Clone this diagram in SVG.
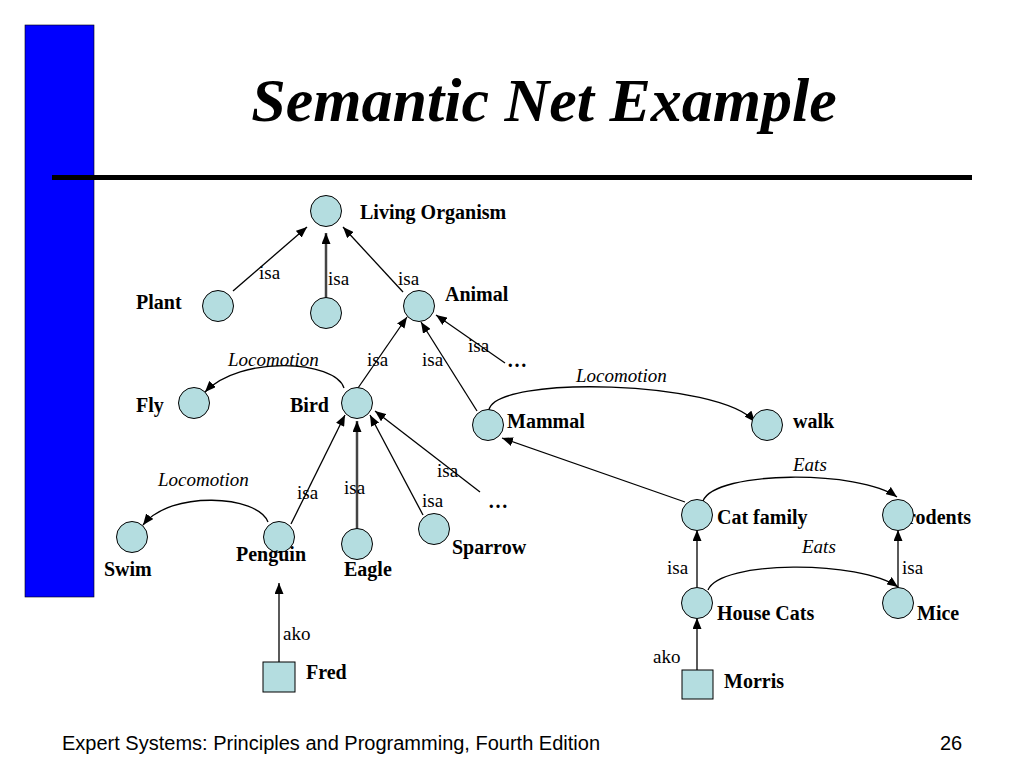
<svg xmlns="http://www.w3.org/2000/svg" width="1024" height="768" viewBox="0 0 1024 768">
<style>
.nd{fill:#b4dde0;stroke:#000;stroke-width:1}
.lbl{font-family:"Liberation Serif","Times New Roman",serif;font-weight:bold;font-size:20px;fill:#000}
.rel{font-family:"Liberation Serif","Times New Roman",serif;font-size:19px;fill:#000}
.rit{font-family:"Liberation Serif","Times New Roman",serif;font-style:italic;font-size:19px;fill:#000}
.ln{stroke:#000;stroke-width:1.3;fill:none;marker-end:url(#ah)}
.gl{stroke:#444;stroke-width:2.5;fill:none;marker-end:url(#ah)}
.ft{font-family:"Liberation Sans",Arial,sans-serif;font-size:20px;fill:#000}
</style>
<defs>
<marker id="ah" markerUnits="userSpaceOnUse" markerWidth="11" markerHeight="9" refX="11" refY="4.5" orient="auto">
<path d="M0,0 L11,4.5 L0,9 z" fill="#000"/>
</marker>
</defs>
<rect width="1024" height="768" fill="#fff"/>
<g id="frame">
<rect x="25" y="25" width="69" height="572" fill="#0000ff" stroke="#000" stroke-width="0.6"/>
<rect x="52" y="175" width="920" height="5" fill="#000"/>
<text x="544" y="121" text-anchor="middle" font-family="Liberation Serif,'Times New Roman',serif" font-weight="bold" font-style="italic" font-size="62">Semantic Net Example</text>
<text x="62" y="750" class="ft">Expert Systems: Principles and Programming, Fourth Edition</text>
<text x="940" y="750" class="ft">26</text>
</g>
<g id="connectors">
<line class="ln" x1="233" y1="291" x2="307" y2="227"/>
<line class="gl" x1="326" y1="298" x2="326" y2="233"/>
<line class="ln" x1="403" y1="292" x2="343" y2="227"/>
<line class="ln" x1="358" y1="388" x2="407" y2="317"/>
<line class="ln" x1="477" y1="411" x2="421" y2="322"/>
<line class="ln" x1="505" y1="363" x2="436" y2="315"/>
<path class="ln" d="M344,388 C335,360 240,355 205,392"/>
<path class="ln" d="M489,410 C495,375 720,380 755,422"/>
<line class="ln" x1="291" y1="524" x2="345" y2="415"/>
<line class="gl" x1="357" y1="529" x2="357" y2="421"/>
<line class="ln" x1="423" y1="515" x2="370" y2="415"/>
<line class="ln" x1="480" y1="492" x2="375" y2="411"/>
<path class="ln" d="M268,522 C258,495 170,490 143,525"/>
<line class="ln" x1="279" y1="662" x2="279" y2="583"/>
<line class="ln" x1="685" y1="502" x2="502" y2="438"/>
<path class="ln" d="M703,501 C715,470 860,470 897,497"/>
<path class="ln" d="M708,590 C720,560 860,560 898,587"/>
<line class="ln" x1="697" y1="587" x2="697" y2="530"/>
<line class="ln" x1="898" y1="588" x2="898" y2="530"/>
<line class="ln" x1="697" y1="670" x2="697" y2="618"/>
<text class="rel" x="259" y="279">isa</text>
<text class="rel" x="328" y="285">isa</text>
<text class="rel" x="398" y="285">isa</text>
<text class="rel" x="367" y="366">isa</text>
<text class="rel" x="422" y="366">isa</text>
<text class="rel" x="468" y="352">isa</text>
<text class="rel" x="437" y="477">isa</text>
<text class="rel" x="297" y="499">isa</text>
<text class="rel" x="344" y="494">isa</text>
<text class="rel" x="422" y="507">isa</text>
<text class="rel" x="283" y="640">ako</text>
<text class="rel" x="667" y="574">isa</text>
<text class="rel" x="902" y="574">isa</text>
<text class="rel" x="653" y="663">ako</text>
<text class="rit" x="228" y="366" font-size="20">Locomotion</text>
<text class="rit" x="158" y="486" font-size="20">Locomotion</text>
<text class="rit" x="576" y="382" font-size="20">Locomotion</text>
<text class="rit" x="793" y="471">Eats</text>
<text class="rit" x="802" y="553">Eats</text>
<text class="lbl" x="507" y="367">…</text>
<text class="lbl" x="488" y="508">…</text>
</g>
<g id="living-organism"><circle class="nd" cx="326" cy="211" r="15.5"/><text class="lbl" x="360" y="219">Living Organism</text></g>
<g id="plant"><circle class="nd" cx="218" cy="306" r="15.5"/><text class="lbl" x="136" y="309">Plant</text></g>
<g id="unnamed"><circle class="nd" cx="326" cy="313" r="15.5"/></g>
<g id="animal"><circle class="nd" cx="419" cy="306" r="15.5"/><text class="lbl" x="445" y="301">Animal</text></g>
<g id="fly"><circle class="nd" cx="194" cy="403" r="15.5"/><text class="lbl" x="136" y="412">Fly</text></g>
<g id="bird"><circle class="nd" cx="357" cy="403" r="15.5"/><text class="lbl" x="290" y="412">Bird</text></g>
<g id="mammal"><circle class="nd" cx="488" cy="425" r="15.5"/><text class="lbl" x="507" y="428">Mammal</text></g>
<g id="walk"><circle class="nd" cx="767" cy="425" r="15.5"/><text class="lbl" x="793" y="428">walk</text></g>
<g id="swim"><circle class="nd" cx="132" cy="537" r="15.5"/><text class="lbl" x="104" y="576">Swim</text></g>
<g id="penguin"><circle class="nd" cx="279" cy="537" r="15.5"/><text class="lbl" x="236" y="561">Penguin</text></g>
<g id="eagle"><circle class="nd" cx="357" cy="544" r="15.5"/><text class="lbl" x="344" y="576">Eagle</text></g>
<g id="sparrow"><circle class="nd" cx="434" cy="529" r="15.5"/><text class="lbl" x="452" y="554">Sparrow</text></g>
<g id="fred"><rect class="nd" x="263" y="662" width="32" height="30"/><text class="lbl" x="306" y="679">Fred</text></g>
<g id="cat-family"><circle class="nd" cx="697" cy="515" r="15.5"/><text class="lbl" x="717" y="524">Cat family</text></g>
<g id="rodents"><text class="lbl" x="907" y="524">rodents</text><circle class="nd" cx="898" cy="515" r="15.5"/></g>
<g id="house-cats"><circle class="nd" cx="697" cy="603" r="15.5"/><text class="lbl" x="717" y="620">House Cats</text></g>
<g id="mice"><circle class="nd" cx="898" cy="603" r="15.5"/><text class="lbl" x="917" y="620">Mice</text></g>
<g id="morris"><rect class="nd" x="682" y="670" width="31" height="29"/><text class="lbl" x="724" y="688">Morris</text></g>
</svg>
